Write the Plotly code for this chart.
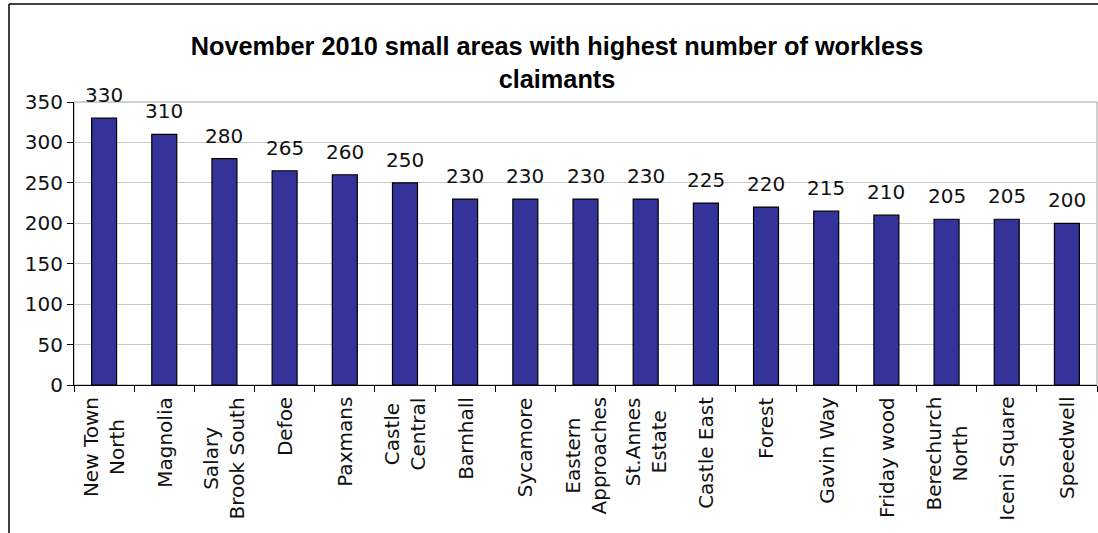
import plotly.graph_objects as go

# Small areas and their count of workless claimants (November 2010)
areas = [
    "New Town<br>North", "Magnolia", "Salary<br>Brook South", "Defoe", "Paxmans",
    "Castle<br>Central", "Barnhall", "Sycamore", "Eastern<br>Approaches",
    "St.Annes<br>Estate", "Castle East", "Forest", "Gavin Way", "Friday wood",
    "Berechurch<br>North", "Iceni Square", "Speedwell",
]
claimants = [330, 310, 280, 265, 260, 250, 230, 230, 230, 230, 225, 220, 215, 210, 205, 205, 200]
y_ticks = [0, 50, 100, 150, 200, 250, 300, 350]

W, H = 1098, 533
L, R, T, B = 74, 1, 102, 148
pw, ph = W - L - R, H - T - B

def px_x(p):
    return (p - L) / pw

def px_y(p):
    return (H - B - p) / ph

LABEL_FONT = "DejaVu Sans, Verdana, sans-serif"
TITLE_FONT = "Liberation Sans, Arial, sans-serif"
TEXT_COLOR = "#111111"

fig = go.Figure(
    go.Bar(
        x=areas,
        y=claimants,
        marker=dict(color="#333399", line=dict(color="#000000", width=1.2)),
        cliponaxis=False,
    )
)

annotations = []
# value labels above each bar
for a, v in zip(areas, claimants):
    annotations.append(dict(
        x=a, y=v, xref="x", yref="y", text=str(v), showarrow=False,
        xanchor="center", yanchor="bottom", yshift=9,
        font=dict(family=LABEL_FONT, size=20, color=TEXT_COLOR),
    ))
# rotated category labels, lines centred on each other
for a in areas:
    annotations.append(dict(
        x=a, y=px_y(395), xref="x", yref="paper", text=a, showarrow=False,
        textangle=-90, align="center", xanchor="center", yanchor="top",
        font=dict(family=LABEL_FONT, size=20, color=TEXT_COLOR),
    ))

fig.update_layout(
    width=W,
    height=H,
    margin=dict(l=L, r=R, t=T, b=B, pad=0),
    paper_bgcolor="white",
    plot_bgcolor="white",
    bargap=0.585,
    showlegend=False,
    title=dict(
        text="November 2010 small areas with highest number of workless<br>claimants",
        font=dict(family=TITLE_FONT, size=25.3, color="#000000", weight="bold"),
        x=557 / W,
        xanchor="center",
        y=1 - 55 / H,
        yanchor="middle",
    ),
    xaxis=dict(
        type="category",
        tickson="boundaries",
        ticks="outside",
        ticklen=6,
        tickcolor="#000000",
        showticklabels=False,
        showline=True,
        linecolor="#000000",
        linewidth=1,
        showgrid=False,
        fixedrange=True,
    ),
    yaxis=dict(
        range=[0, 350],
        tickvals=y_ticks,
        ticks="outside",
        ticklen=6,
        tickcolor="#000000",
        showline=True,
        linecolor="#000000",
        linewidth=1,
        showgrid=True,
        gridcolor="#c8c8c8",
        gridwidth=1,
        zeroline=False,
        tickfont=dict(family=LABEL_FONT, size=20, color=TEXT_COLOR),
        fixedrange=True,
    ),
    annotations=annotations,
    shapes=[
        # grey frame around the plotting area
        dict(type="rect", xref="paper", yref="paper", x0=0, x1=1, y0=0, y1=1,
             line=dict(color="#a0a0a0", width=1), layer="below"),
        # outer chart border (left and top edges)
        dict(type="line", xref="paper", yref="paper",
             x0=px_x(9), x1=px_x(9), y0=px_y(4), y1=px_y(H + 5),
             line=dict(color="#000000", width=1.5)),
        dict(type="line", xref="paper", yref="paper",
             x0=px_x(9), x1=px_x(W + 5), y0=px_y(4), y1=px_y(4),
             line=dict(color="#000000", width=1.5)),
    ],
)

fig.write_html("out.html")
